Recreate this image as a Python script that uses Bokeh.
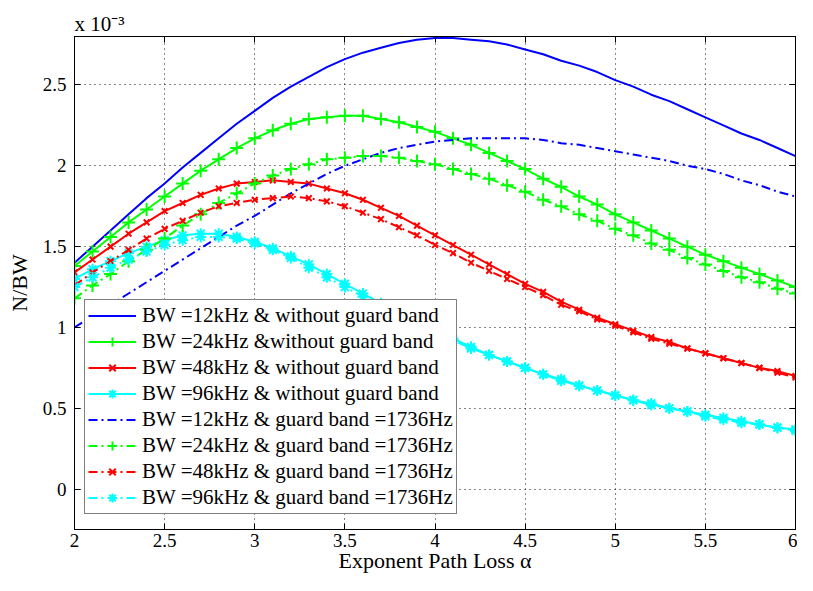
from bokeh.plotting import figure
from bokeh.models import LinearAxis, FixedTicker, Legend, LegendItem, Range1d, Title
from bokeh.embed import file_html
from bokeh.resources import INLINE

alpha = [round(2.0 + 0.1 * i, 1) for i in range(41)]

bw12_noguard = [1.40, 1.50, 1.60, 1.70, 1.80, 1.89, 1.99, 2.08, 2.17, 2.26,
                2.34, 2.42, 2.49, 2.55, 2.61, 2.66, 2.70, 2.73, 2.76, 2.78,
                2.79, 2.79, 2.78, 2.77, 2.75, 2.72, 2.69, 2.65, 2.62, 2.58,
                2.53, 2.49, 2.44, 2.40, 2.35, 2.30, 2.25, 2.20, 2.16, 2.11, 2.06]
bw24_noguard = [1.38, 1.47, 1.56, 1.65, 1.73, 1.81, 1.89, 1.97, 2.04, 2.11,
                2.17, 2.22, 2.26, 2.29, 2.30, 2.31, 2.31, 2.29, 2.27, 2.24,
                2.21, 2.17, 2.13, 2.08, 2.03, 1.98, 1.92, 1.87, 1.81, 1.76,
                1.70, 1.65, 1.60, 1.55, 1.50, 1.45, 1.41, 1.37, 1.33, 1.29, 1.25]
bw48_noguard = [1.34, 1.42, 1.50, 1.58, 1.65, 1.72, 1.77, 1.82, 1.86, 1.89,
                1.90, 1.91, 1.90, 1.89, 1.86, 1.83, 1.79, 1.74, 1.69, 1.63,
                1.57, 1.51, 1.45, 1.39, 1.33, 1.27, 1.22, 1.16, 1.11, 1.06,
                1.02, 0.98, 0.94, 0.91, 0.87, 0.84, 0.81, 0.78, 0.75, 0.73, 0.70]
bw96_noguard = [1.30, 1.36, 1.41, 1.46, 1.50, 1.54, 1.57, 1.58, 1.58, 1.56,
                1.53, 1.49, 1.44, 1.39, 1.33, 1.27, 1.21, 1.15, 1.09, 1.03,
                0.98, 0.93, 0.88, 0.83, 0.79, 0.75, 0.71, 0.68, 0.64, 0.61,
                0.58, 0.55, 0.53, 0.50, 0.48, 0.46, 0.44, 0.42, 0.40, 0.38, 0.37]
bw12_guard = [1.00, 1.07, 1.14, 1.21, 1.28, 1.35, 1.42, 1.49, 1.56, 1.63,
              1.69, 1.76, 1.83, 1.89, 1.95, 2.00, 2.04, 2.08, 2.11, 2.13,
              2.15, 2.16, 2.17, 2.17, 2.17, 2.17, 2.16, 2.14, 2.13, 2.11,
              2.09, 2.07, 2.05, 2.03, 2.00, 1.98, 1.95, 1.91, 1.88, 1.84, 1.81]
bw24_guard = [1.18, 1.26, 1.33, 1.41, 1.48, 1.55, 1.63, 1.70, 1.77, 1.83,
              1.89, 1.94, 1.98, 2.01, 2.04, 2.05, 2.06, 2.06, 2.05, 2.03,
              2.01, 1.98, 1.95, 1.92, 1.88, 1.84, 1.79, 1.75, 1.70, 1.66,
              1.61, 1.57, 1.52, 1.48, 1.43, 1.39, 1.35, 1.31, 1.28, 1.24, 1.21]
bw48_guard = [1.26, 1.34, 1.41, 1.48, 1.55, 1.61, 1.66, 1.71, 1.75, 1.77,
              1.79, 1.80, 1.81, 1.80, 1.78, 1.75, 1.71, 1.67, 1.62, 1.57,
              1.51, 1.46, 1.40, 1.35, 1.30, 1.25, 1.20, 1.14, 1.10, 1.05,
              1.01, 0.97, 0.93, 0.90, 0.87, 0.84, 0.81, 0.78, 0.75, 0.72, 0.69]
bw96_guard = [1.25, 1.31, 1.37, 1.42, 1.47, 1.51, 1.54, 1.56, 1.56, 1.55,
              1.52, 1.48, 1.43, 1.37, 1.31, 1.25, 1.19, 1.13, 1.08, 1.02,
              0.97, 0.92, 0.87, 0.83, 0.79, 0.75, 0.71, 0.67, 0.64, 0.61,
              0.58, 0.55, 0.52, 0.50, 0.48, 0.45, 0.43, 0.41, 0.40, 0.38, 0.36]

labels = ["BW =12kHz & without guard band",
          "BW =24kHz &without guard band",
          "BW =48kHz & without guard band",
          "BW =96kHz & without guard band",
          "BW =12kHz & guard band =1736Hz",
          "BW =24kHz & guard band =1736Hz",
          "BW =48kHz & guard band =1736Hz",
          "BW =96kHz & guard band =1736Hz"]

x_ticks = [2, 2.5, 3, 3.5, 4, 4.5, 5, 5.5, 6]
x_tick_labels = ["2", "2.5", "3", "3.5", "4", "4.5", "5", "5.5", "6"]
y_ticks = [0, 0.5, 1, 1.5, 2, 2.5]
y_tick_labels = ["0", "0.5", "1", "1.5", "2", "2.5"]
multiplier = "x 10\u207b\u00b3"

FONT = "Liberation Serif"

p = figure(width=797, height=575, x_range=Range1d(2, 6), y_range=Range1d(-0.25, 2.8),
           output_backend="svg", toolbar_location=None,
           min_border_left=74, min_border_right=2, min_border_top=36, min_border_bottom=30)
p.background_fill_color = "white"
p.border_fill_color = "white"
p.outline_line_color = "black"
p.outline_line_width = 1

p.title = Title(text=multiplier, align="left", offset=0, standoff=2,
                text_font=FONT, text_font_size="21px", text_font_style="normal",
                text_color="black")

for ax in [p.xaxis[0], p.yaxis[0]]:
    ax.major_tick_in = 6
    ax.major_tick_out = 0
    ax.minor_tick_line_color = None
    ax.axis_line_color = "black"
    ax.major_label_text_font = FONT
    ax.major_label_text_font_size = "19px"
    ax.major_label_text_color = "black"
    ax.axis_label_text_font = FONT
    ax.axis_label_text_font_size = "22px"
    ax.axis_label_text_font_style = "normal"
    ax.axis_label_text_color = "black"

p.xaxis.ticker = FixedTicker(ticks=x_ticks)
p.xaxis.major_label_overrides = dict(zip(x_ticks, x_tick_labels))
p.yaxis.ticker = FixedTicker(ticks=y_ticks)
p.yaxis.major_label_overrides = dict(zip(y_ticks, y_tick_labels))
p.xaxis.axis_label = "Exponent Path Loss \u03b1"
p.yaxis.axis_label = "N/BW"
p.xaxis.major_label_standoff = 4
p.xaxis.axis_label_standoff = -2
p.yaxis.major_label_standoff = 8
p.yaxis.axis_label_standoff = 8

for loc, ticks in [("right", y_ticks), ("above", x_ticks)]:
    ax = LinearAxis(ticker=FixedTicker(ticks=ticks), major_tick_in=6, major_tick_out=0,
                    minor_tick_line_color=None, major_label_text_font_size="1px",
                    major_label_text_color=None, major_label_overrides={t: "" for t in ticks},
                    axis_line_color="black", major_label_standoff=0)
    p.add_layout(ax, loc)

p.xgrid.ticker = FixedTicker(ticks=x_ticks)
p.ygrid.ticker = FixedTicker(ticks=y_ticks)
for g in [p.xgrid[0], p.ygrid[0]]:
    g.grid_line_color = "#111111"
    g.grid_line_dash = "1 4"
    g.grid_line_width = 1

BLUE, GREEN, RED, CYAN = "#0000FF", "#00FF00", "#FF0000", "#00FFFF"
DASHDOT = "9 4 2 4"

series = [
    (bw12_noguard, BLUE, "solid", None, 0),
    (bw24_noguard, GREEN, "solid", "cross", 13),
    (bw48_noguard, RED, "solid", "x", 8),
    (bw96_noguard, CYAN, "solid", "asterisk", 11),
    (bw12_guard, BLUE, DASHDOT, None, 0),
    (bw24_guard, GREEN, DASHDOT, "cross", 13),
    (bw48_guard, RED, DASHDOT, "x", 8),
    (bw96_guard, CYAN, DASHDOT, "asterisk", 11),
]

items = []
for (ys, color, dash, marker, size), lab in zip(series, labels):
    rs = [p.line(alpha, ys, line_color=color, line_width=2, line_dash=dash)]
    if marker:
        rs.append(p.scatter(alpha, ys, marker=marker, size=size, line_color=color,
                            fill_color=color, line_width=2))
    items.append(LegendItem(label=lab, renderers=rs))

legend = Legend(items=items, location=(10, 15))
legend.label_text_font = FONT
legend.label_text_font_size = "21px"
legend.label_text_color = "black"
legend.glyph_width = 48
legend.glyph_height = 23
legend.label_height = 23
legend.spacing = 1
legend.padding = 3
legend.margin = 0
legend.label_standoff = 6
legend.border_line_color = "black"
legend.border_line_width = 1
legend.background_fill_color = "white"
legend.background_fill_alpha = 1
p.add_layout(legend)

open("out.html", "w").write(file_html(p, INLINE))
